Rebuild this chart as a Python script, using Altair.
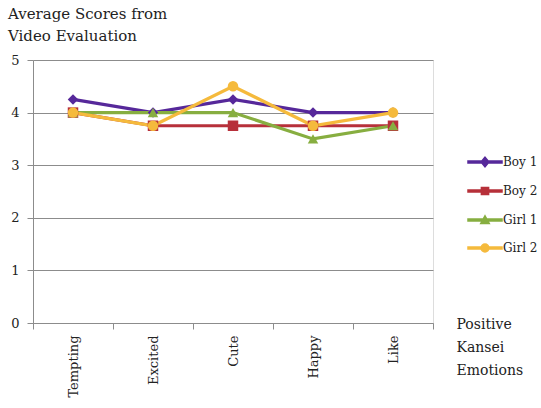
import altair as alt
import pandas as pd

categories = ["Tempting", "Excited", "Cute", "Happy", "Like"]
series_names = ["Boy 1", "Boy 2", "Girl 1", "Girl 2"]
boy1 = [4.25, 4.0, 4.25, 4.0, 4.0]
boy2 = [4.0, 3.75, 3.75, 3.75, 3.75]
girl1 = [4.0, 4.0, 4.0, 3.5, 3.75]
girl2 = [4.0, 3.75, 4.5, 3.75, 4.0]
y_ticks = [0, 1, 2, 3, 4, 5]

colors = ["#56289A", "#B7303A", "#87AE40", "#F5BA3C"]
marker_shapes = ["diamond", "square", "triangle-up", "circle"]

bar = "M-3.4,-0.2H3.4V0.2H-3.4Z"
legend_paths = [
    bar + "M0,-0.95L0.8,0L0,0.95L-0.8,0Z",
    bar + "M-0.72,-0.72H0.72V0.72H-0.72Z",
    bar + "M0,-0.85L0.85,0.7H-0.85Z",
    bar + "M0.8,0A0.8,0.8,0,1,1,-0.8,0A0.8,0.8,0,1,1,0.8,0Z",
]

rows = []
for name, vals, shp in zip(series_names, [boy1, boy2, girl1, girl2], marker_shapes):
    for c, v in zip(categories, vals):
        rows.append({"category": c, "score": v, "series": name, "marker": shp})
df = pd.DataFrame(rows)

FONT = "DejaVu Serif"
GRID = "#8C8C8C"

x_enc = alt.X(
    "category:N",
    sort=categories,
    scale=alt.Scale(domain=categories, paddingInner=0, paddingOuter=0),
    axis=alt.Axis(
        title=["Positive", "Kansei", "Emotions"],
        titleX=423,
        titleY=-6,
        titleAlign="left",
        titleBaseline="top",
        titleAngle=0,
        titleLineHeight=23,
        titleFontSize=14,
        titleFontWeight="normal",
        titleFont=FONT,
        titleColor="#222222",
        labelAngle=-90,
        labelFont=FONT,
        labelFontSize=13,
        labelColor="#222222",
        labelPadding=6,
        tickBand="extent",
        tickSize=6,
        tickColor=GRID,
        domainColor=GRID,
        grid=False,
    ),
)
y_enc = alt.Y(
    "score:Q",
    scale=alt.Scale(domain=[0, 5], nice=False),
    axis=alt.Axis(
        title=None,
        values=y_ticks,
        format="d",
        labelFont=FONT,
        labelFontSize=13,
        labelColor="#222222",
        labelPadding=8,
        tickSize=6,
        tickColor=GRID,
        domainColor=GRID,
        grid=True,
        gridColor=GRID,
        gridWidth=1,
    ),
)
color_scale = alt.Scale(domain=series_names, range=colors)

base = alt.Chart(df)

leg = alt.Legend(
    title=None,
    orient="none",
    legendX=446,
    legendY=96,
    symbolSize=100,
    symbolOpacity=1,
    labelFont=FONT,
    labelFontSize=12,
    labelColor="#222222",
    labelOffset=12,
    rowPadding=14,
)
legend_layer = base.mark_point(filled=True, opacity=0).encode(
    x=x_enc, y=y_enc,
    color=alt.Color("series:N", scale=color_scale, legend=leg),
    shape=alt.Shape("series:N", scale=alt.Scale(domain=series_names, range=legend_paths), legend=leg),
)
lines = base.mark_line(strokeWidth=3.2).encode(
    x=x_enc, y=y_enc,
    color=alt.Color("series:N", scale=color_scale),
)
points = base.mark_point(filled=True, size=110, opacity=1).encode(
    x=x_enc, y=y_enc,
    color=alt.Color("series:N", scale=color_scale),
    shape=alt.Shape("marker:N", scale=None),
)

chart = (
    alt.layer(legend_layer, lines, points)
    .properties(
        width=400,
        height=263,
        title=alt.TitleParams(
            text=["Average Scores from", "Video Evaluation"],
            anchor="start",
            frame="group",
            dx=-25,
            offset=10,
            font=FONT,
            fontSize=15,
            fontWeight="normal",
            color="#222222",
            lineHeight=22,
        ),
        padding={"left": 33, "top": 60, "right": 108, "bottom": 85},
        autosize=alt.AutoSizeParams(type="none"),
    )
    .configure_view(stroke=None)
    .configure(background="white")
)

chart.save("out.html", embed_options={"renderer": "svg", "actions": False})
